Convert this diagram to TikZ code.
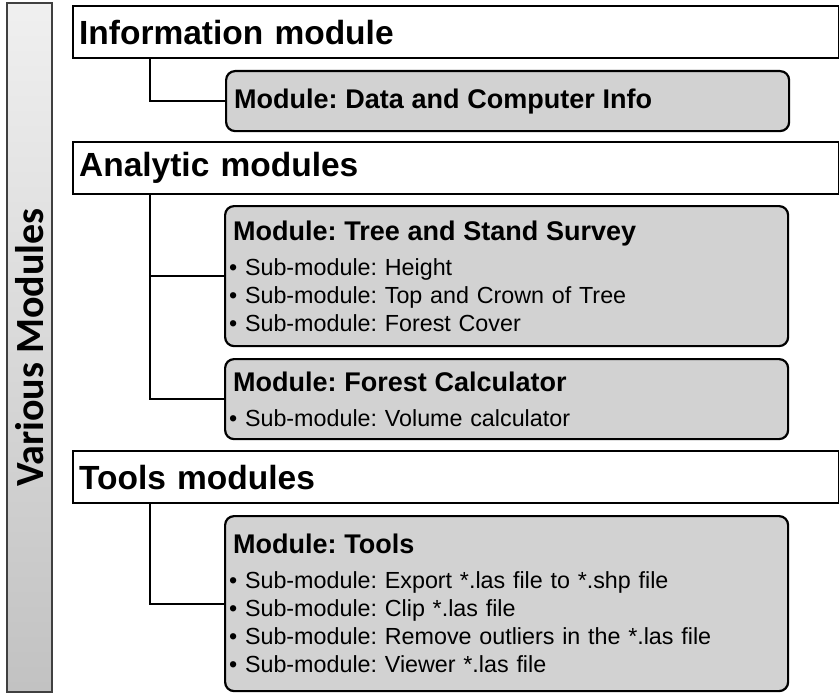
\documentclass[tikz,border=0pt]{standalone}
\usepackage{fontspec}
\setmainfont{Liberation Sans}
\newfontfamily\sidefont{Carlito}
\frenchspacing

\newcommand{\modtitle}[1]{{\bfseries\fontsize{27bp}{28bp}\selectfont #1}}
\newcommand{\submod}{\hspace*{-4bp}• Sub-module: }

\begin{document}
\begin{tikzpicture}[x=1bp,y=-1bp,
		headbox/.style={draw,line width=2.2bp,fill=white,anchor=north west,inner xsep=6bp,inner ysep=0pt,
			text width=754bp,minimum height=52bp,align=left,font=\bfseries\fontsize{33.5bp}{36bp}\selectfont},
		modbox/.style={draw,line width=2.2bp,fill=gray!35,rounded corners=9bp,anchor=north west,inner xsep=8bp,
			text width=547bp,align=left,font=\fontsize{23.3bp}{28bp}\selectfont},
		sidebar/.style={draw=black!75,line width=1.5bp,rotate=90,minimum width=689bp,minimum height=45bp,
			inner sep=0pt,top color=gray!12,bottom color=gray!48,font=\sidefont\bfseries\fontsize{40bp}{40bp}\selectfont},
		conn/.style={line width=2.2bp}]
	\useasboundingbox (0,0) rectangle (839,694);

	% left bar
	\node[sidebar] (side) at (29.5,347.5) {Various Modules};

	% group headers
	\node[headbox] (info) at (72,5) {Information module};
	\node[headbox] (ana) at (72,141) {Analytic modules};
	\node[headbox] (tools) at (72,450) {Tools modules};

	% modules
	\node[modbox,minimum height=60bp] (dci) at (225,70) {\modtitle{Module: Data and Computer Info}};
	\node[modbox,minimum height=140bp] (tree) at (224,205) {\modtitle{Module: Tree and Stand Survey}\\[7bp]
		\submod Height\\
		\submod Top and Crown of Tree\\
		\submod Forest Cover};
	\node[modbox,minimum height=80bp] (fcalc) at (224,358) {\modtitle{Module: Forest Calculator}\\[7bp]
		\submod Volume calculator};
	\node[modbox,minimum height=175bp] (tool) at (224,515) {\modtitle{Module: Tools}\\[7bp]
		\submod Export *.las file to *.shp file\\
		\submod Clip *.las file\\
		\submod Remove outliers in the *.las file\\
		\submod Viewer *.las file};

	% tree lines
	\foreach \h/\m in {info/dci,ana/fcalc,tools/tool}
		\draw[conn] ([xshift=78bp]\h.south west) coordinate (\h-stem) |- (\m.west);
	\draw[conn] (tree.west) -- (tree.west -| ana-stem);
%	\draw[conn] (ana-stem) -- (ana-stem |- fcalc.west);

\end{tikzpicture}
\end{document}
